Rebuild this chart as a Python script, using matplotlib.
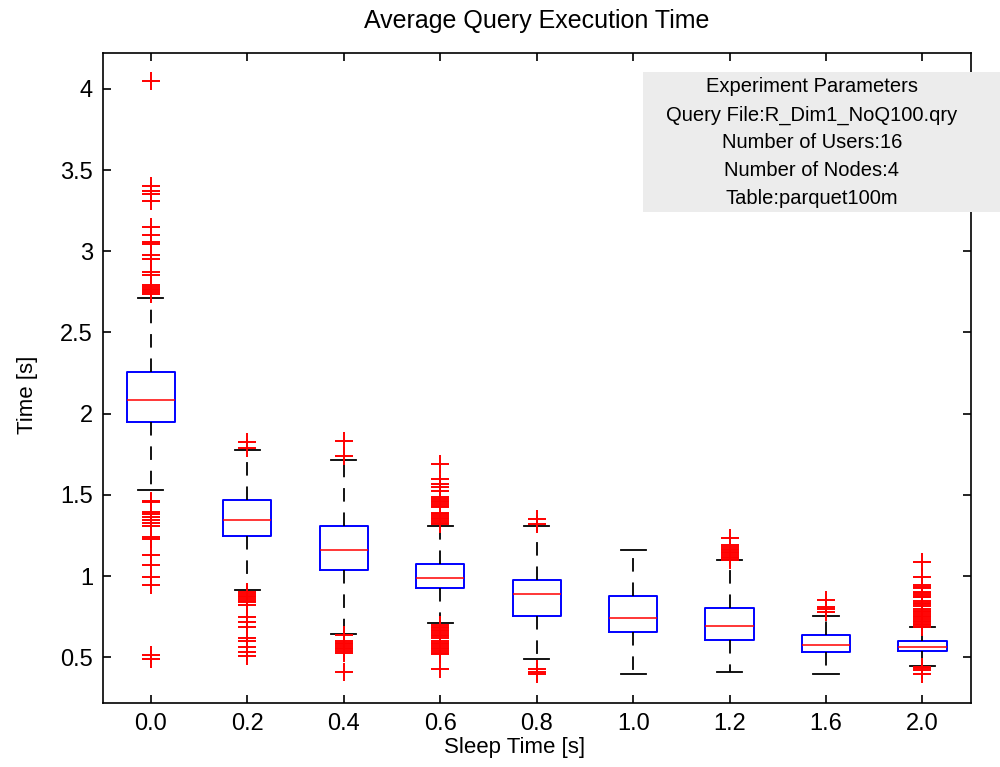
import matplotlib
matplotlib.use("Agg")
import matplotlib.pyplot as plt
from matplotlib.patches import Rectangle

# Sleep time groups (x tick labels)
sleep_labels = ["0.0", "0.2", "0.4", "0.6", "0.8", "1.0", "1.2", "1.6", "2.0"]

# box statistics (seconds)
whisker_low = [1.53, 0.917, 0.647, 0.71, 0.488, 0.40, 0.41, 0.40, 0.448]
q1 = [1.948, 1.246, 1.04, 0.93, 0.755, 0.657, 0.61, 0.534, 0.539]
median = [2.085, 1.347, 1.163, 0.99, 0.893, 0.745, 0.696, 0.574, 0.562]
q3 = [2.256, 1.469, 1.31, 1.077, 0.978, 0.88, 0.807, 0.635, 0.600]
whisker_high = [2.71, 1.776, 1.715, 1.31, 1.31, 1.163, 1.10, 0.755, 0.685]

# outliers per group
fliers = [
    [4.05, 3.40, 3.37, 3.35, 3.31, 3.15, 3.10, 3.06, 3.045, 2.98, 2.95, 2.87, 2.855,
     2.79, 2.78, 2.77, 2.76, 2.75, 2.74,
     1.465, 1.455, 1.396, 1.38, 1.362, 1.345, 1.325, 1.308, 1.239, 1.228,
     1.128, 1.066, 0.992, 0.943, 0.514, 0.488],
    [1.823, 1.79, 0.90, 0.89, 0.88, 0.87, 0.86, 0.85, 0.84, 0.82, 0.75, 0.72, 0.69,
     0.62, 0.60, 0.565, 0.535, 0.51],
    [1.83, 1.74, 0.637, 0.60, 0.59, 0.58, 0.57, 0.56, 0.55, 0.54, 0.53, 0.41],
    [1.69, 1.60, 1.57, 1.547, 1.527, 1.485, 1.475, 1.465, 1.455, 1.445, 1.435, 1.425,
     1.39, 1.38, 1.37, 1.36, 1.35, 1.34, 1.33, 1.32,
     0.70, 0.69, 0.68, 0.67, 0.66, 0.65, 0.64, 0.63, 0.62,
     0.60, 0.59, 0.58, 0.57, 0.56, 0.55, 0.54, 0.53, 0.52, 0.426],
    [1.353, 1.32, 0.426, 0.41, 0.398],
    [],
    [1.236, 1.19, 1.18, 1.17, 1.16, 1.15, 1.14, 1.13, 1.12, 1.11, 1.10],
    [0.853, 0.808, 0.795, 0.78],
    [1.088, 0.996, 0.945, 0.935, 0.925, 0.904, 0.894, 0.884, 0.874, 0.869,
     0.846, 0.836, 0.826, 0.818, 0.797, 0.787, 0.777, 0.767, 0.757, 0.747,
     0.737, 0.727, 0.717, 0.707, 0.697, 0.687, 0.442, 0.432, 0.422, 0.40],
]

param_lines = ["Experiment Parameters", "Query File:R_Dim1_NoQ100.qry",
               "Number of Users:16", "Number of Nodes:4", "Table:parquet100m"]

plt.rcParams["font.family"] = ["Liberation Sans", "DejaVu Sans"]

fig = plt.figure(figsize=(10, 7.67), dpi=100)
ax = fig.add_axes([0.1027, 0.0834, 0.868, 0.8478])

stats = []
for i in range(len(sleep_labels)):
    stats.append({"whislo": whisker_low[i], "q1": q1[i], "med": median[i],
                  "q3": q3[i], "whishi": whisker_high[i], "fliers": fliers[i]})

ax.bxp(stats, positions=range(1, len(stats) + 1), widths=0.5, capwidths=0.26,
       showfliers=True,
       boxprops=dict(color="#0000ff", linewidth=1.4),
       medianprops=dict(color="#ff0000", linewidth=1.1),
       whiskerprops=dict(color="black", linewidth=1.3, linestyle=(0, (7.5, 6))),
       capprops=dict(color="black", linewidth=1.3),
       flierprops=dict(marker="+", markersize=13, markeredgecolor="#ff0000",
                       markeredgewidth=1.4, linestyle="none"))

ax.set_xlim(0.5, 9.5)
ax.set_ylim(0.219, 4.222)
ax.set_xticks(range(1, len(sleep_labels) + 1))
ax.set_xticklabels(sleep_labels)
ax.set_yticks([0.5, 1, 1.5, 2, 2.5, 3, 3.5, 4])
ax.set_yticklabels(["0.5", "1", "1.5", "2", "2.5", "3", "3.5", "4"])
ax.tick_params(direction="in", length=6, width=1.2, top=True, right=True,
               labelsize=17, pad=7, colors="black")
for s in ax.spines.values():
    s.set_linewidth(1.2)

fig.text(0.5367, 1 - 21 / 767, "Average Query Execution Time", ha="center",
         va="center", fontsize=18)
fig.text(0.515, 1 - 747 / 767, "Sleep Time [s]", ha="center", va="center",
         fontsize=16)
fig.text(0.028, 1 - 395 / 767, "Time [s]", ha="center", va="center",
         rotation=90, fontsize=16)

# experiment parameter box (sits over the right spine)
fig.patches.append(Rectangle((0.643, 1 - 211.7 / 767), 0.357, 140 / 767,
                             transform=fig.transFigure, facecolor="#ececec",
                             edgecolor="none", zorder=5))
line_y = [87, 115, 142, 170, 198]
for txt, yp in zip(param_lines, line_y):
    fig.text(0.812, 1 - yp / 767, txt, ha="center", va="center", fontsize=14.5,
             zorder=6)

fig.savefig("out.png", dpi=100)
